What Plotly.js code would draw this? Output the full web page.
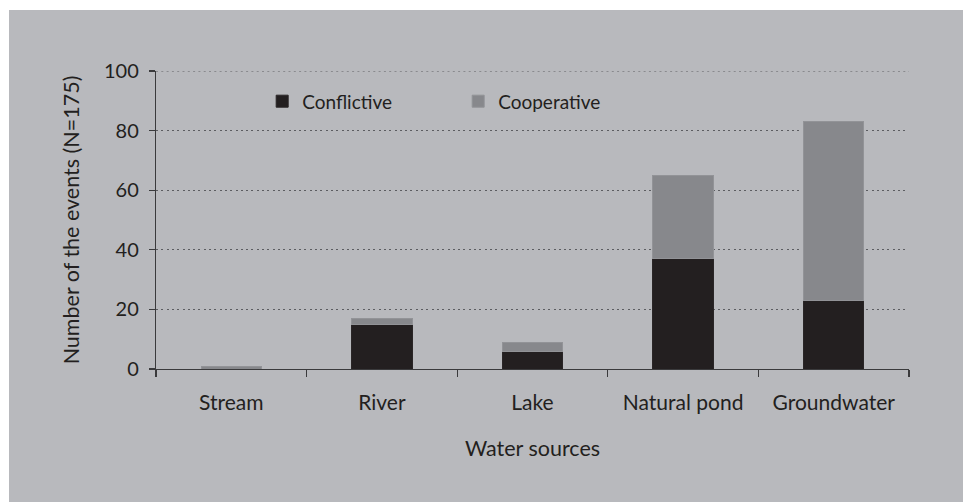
<!DOCTYPE html>
<html>
<head>
<meta charset="utf-8">
<script src="https://cdn.plot.ly/plotly-3.0.1.min.js"></script>
<style>
  html, body { margin: 0; padding: 0; background: #ffffff; width: 963px; height: 502px; overflow: hidden; }
  #chart { position: absolute; left: 9px; top: 10px; width: 954px; height: 492px; }
</style>
</head>
<body>
<div id="chart"></div>
<script>
const categories = ["Stream", "River", "Lake", "Natural pond", "Groundwater"];
const conflictive = [0, 15, 6, 37, 23];
const cooperative = [1, 2, 3, 28, 60];
const yTicks = [0, 20, 40, 60, 80, 100];
const yMax = 100;

const FONT = "Lato, 'Open Sans', sans-serif";
const INK = "#231f20";
const GRID = "#5c5d61";
const DASH = "2px,3.3px";

const traces = [
  {
    type: "bar",
    name: "Conflictive",
    x: categories,
    y: conflictive,
    marker: { color: "#231f20", line: { color: "#2a2627", width: 1 } },
    hoverinfo: "skip"
  },
  {
    type: "bar",
    name: "Cooperative",
    x: categories,
    y: cooperative,
    marker: { color: "#87888c", line: { color: "#929397", width: 1 } },
    hoverinfo: "skip"
  }
];

const layout = {
  width: 954,
  height: 492,
  barmode: "stack",
  bargap: 0.6,
  paper_bgcolor: "#b8b9bd",
  plot_bgcolor: "rgba(0,0,0,0)",
  margin: { l: 147, r: 54, t: 61, b: 133, pad: 0 },
  font: { family: FONT, color: INK, size: 20 },
  showlegend: true,
  legend: {
    orientation: "h",
    x: 0.141, y: 0.962, xanchor: "left", yanchor: "top",
    bgcolor: "rgba(0,0,0,0)",
    font: { family: FONT, size: 19, color: INK },
    entrywidth: 151, entrywidthmode: "pixels",
    traceorder: "normal"
  },
  shapes: [
    { type: "line", xref: "paper", yref: "y", x0: 0, x1: 1, y0: yMax, y1: yMax,
      line: { color: GRID, width: 1.2, dash: DASH }, layer: "below" }
  ],
  xaxis: {
    type: "category",
    showline: true, linecolor: "#3a3a3c", linewidth: 1.2,
    ticks: "outside", tickson: "boundaries", ticklen: 7, tickcolor: "#3a3a3c", tickwidth: 1.2,
    ticklabelstandoff: 15,
    showgrid: false, zeroline: false,
    tickfont: { family: FONT, size: 21, color: INK },
    title: { text: "Water sources", font: { family: FONT, size: 21.5, color: INK }, standoff: 27 },
    fixedrange: true
  },
  yaxis: {
    range: [0, yMax],
    tickvals: yTicks,
    ticktext: yTicks.map(String),
    showline: true, linecolor: "#3a3a3c", linewidth: 1.2,
    ticks: "outside", ticklen: 6, tickcolor: "#3a3a3c", tickwidth: 1.2,
    ticklabelstandoff: 6,
    showgrid: true, gridcolor: GRID, gridwidth: 1.2, griddash: DASH,
    zeroline: false,
    tickfont: { family: FONT, size: 20, color: INK },
    title: { text: "Number of the events (N=175)", font: { family: FONT, size: 21.5, color: INK }, standoff: 18 },
    fixedrange: true
  }
};

Plotly.newPlot("chart", traces, layout, { staticPlot: true, displayModeBar: false });
</script>
</body>
</html>
